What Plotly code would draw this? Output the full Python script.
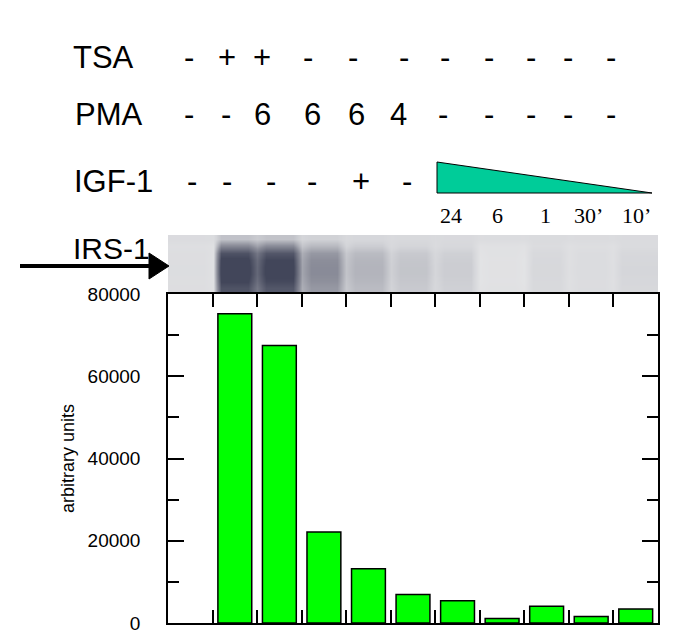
import plotly.graph_objects as go

# lanes of the blot / bar chart
lanes = ["ctrl", "TSA", "TSA ", "PMA6", "PMA6 ", "PMA6+IGF", "PMA4", "24", "6", "1", "30'"]
values = [None, 75200, 67500, 22100, 13200, 6900, 5400, 1100, 4100, 1600, 3400]

# header rows (text, x pixel)
tsa_marks = ["-", "+", "+", "-", "-", "-", "-", "-", "-", "-", "-"]
tsa_x = [189, 227, 262, 308, 353, 404, 445, 489, 531, 568, 611]
pma_marks = ["-", "-", "6", "6", "6", "4", "-", "-", "-", "-", "-"]
pma_x = [189, 226, 262, 312, 356, 398, 443, 489, 531, 568, 611]
igf_marks = ["-", "-", "-", "-", "+", "-"]
igf_x = [192, 227, 271, 312, 361, 407]
time_labels = ["24", "6", "1", "30\u2019", "10\u2019"]
time_x = [451, 497, 545, 588, 636]

# blot band intensity per lane and vertical band profile (top -> bottom)
band = [0.08, 1.0, 0.97, 0.5, 0.3, 0.22, 0.18, 0.05, 0.12, 0.09, 0.13]
profile = [0.15, 0.5, 0.85, 0.97, 1.0, 1.0, 0.95, 0.85]
backdrop = [0.14, 0.09, 0.07, 0.06, 0.06, 0.06, 0.06, 0.07]

# the page body adds an 8px margin, so the figure is made smaller and shifted
OFF = 8
PW, PH = 685, 642
L, R, T, B = 168, 658, 235, 623


def px(x):
    return (x - L) / (R - L)


def py(y):
    return (B - y) / (B - T)


# blot columns: two per lane plus a lighter gap between neighbouring lanes
cols_x, cols_b = [], []
for i, b in enumerate(band):
    cols_x += [i - 0.3, i + 0.3]
    cols_b += [b, b]
    if i < len(band) - 1:
        cols_x.append(i + 0.5)
        cols_b.append(min(b, band[i + 1]) * 0.75)
z = [[bg + p * b for b in cols_b] for p, bg in zip(profile, backdrop)]
z = z[::-1]

fig = go.Figure()
fig.add_trace(go.Bar(
    x=lanes, y=values, width=0.76,
    marker=dict(color="#00ff00", line=dict(color="black", width=1.5)),
    showlegend=False,
))
fig.add_trace(go.Heatmap(
    z=z, x=cols_x, y=list(range(len(profile))),
    xaxis="x2", yaxis="y2", zsmooth="best", showscale=False, zmin=0, zmax=1,
    colorscale=[[0, "#f0f0f0"], [0.2, "#d4d5d9"], [0.55, "#8b8d99"], [1, "#42465a"]],
    hoverinfo="skip",
))

fig.update_layout(
    width=PW - OFF, height=PH - OFF,
    margin=dict(l=L - OFF, r=PW - R, t=T - OFF, b=PH - B),
    paper_bgcolor="white", plot_bgcolor="white",
    font=dict(family="Liberation Sans, Arial, sans-serif", color="black"),
    xaxis=dict(type="category", tickson="boundaries", ticks="inside", ticklen=13,
               tickcolor="black", tickwidth=1.5, showticklabels=False,
               showline=True, linecolor="black", linewidth=1.5, mirror="ticks",
               showgrid=False, range=[-0.5, 10.5], domain=[0, 1], automargin=False),
    yaxis=dict(range=[0, 80000], dtick=20000, tickformat="d", ticks="inside", ticklen=16,
               tickcolor="black", tickwidth=1.5, showline=True, linecolor="black",
               linewidth=1.5, mirror="ticks", showgrid=False, zeroline=False,
               tickfont=dict(size=19), ticklabelstandoff=22, domain=[0, py(294)],
               automargin=False,
               minor=dict(dtick=10000, ticks="inside", ticklen=11, tickcolor="black", tickwidth=1.5),
               title=dict(text="arbitrary units", font=dict(size=18), standoff=8)),
    xaxis2=dict(anchor="y2", range=[-0.5, 10.5], visible=False, domain=[0, 1]),
    yaxis2=dict(anchor="x2", range=[-0.5, len(profile) - 0.5], visible=False,
                domain=[py(292), 1]),
)

ann = []


def label(text, x, y, size, family="Liberation Sans, Arial, sans-serif", xanchor="center"):
    ann.append(dict(text=text, x=px(x), y=py(y), xref="paper", yref="paper",
                    showarrow=False, xanchor=xanchor, yanchor="middle",
                    font=dict(size=size, family=family, color="black")))


label("TSA", 71, 57, 31, xanchor="left")
label("PMA", 73, 114, 31, xanchor="left")
label("IGF-1", 72, 181, 31, xanchor="left")
label("IRS-1", 71, 248, 30, xanchor="left")
for t, x in zip(tsa_marks, tsa_x):
    label(t, x, 57, 31)
for t, x in zip(pma_marks, pma_x):
    label(t, x, 114, 31)
for t, x in zip(igf_marks, igf_x):
    label(t, x, 181, 31)
for t, x in zip(time_labels, time_x):
    label(t, x, 215, 22, family="Liberation Serif, Times New Roman, serif")
fig.update_layout(annotations=ann)

fig.update_layout(shapes=[
    # IGF-1 gradient triangle
    dict(type="path", xref="paper", yref="paper",
         path=f"M {px(437)} {py(162)} L {px(437)} {py(193)} L {px(652)} {py(193)} Z",
         fillcolor="#00cc99", line=dict(color="black", width=1)),
    # arrow pointing at IRS-1 band
    dict(type="line", xref="paper", yref="paper", x0=px(20), x1=px(152),
         y0=py(266), y1=py(266), line=dict(color="black", width=4)),
    dict(type="path", xref="paper", yref="paper",
         path=f"M {px(149)} {py(253)} L {px(169)} {py(266)} L {px(149)} {py(279)} Z",
         fillcolor="black", line=dict(color="black", width=1)),
])

fig.write_html("out.html")
